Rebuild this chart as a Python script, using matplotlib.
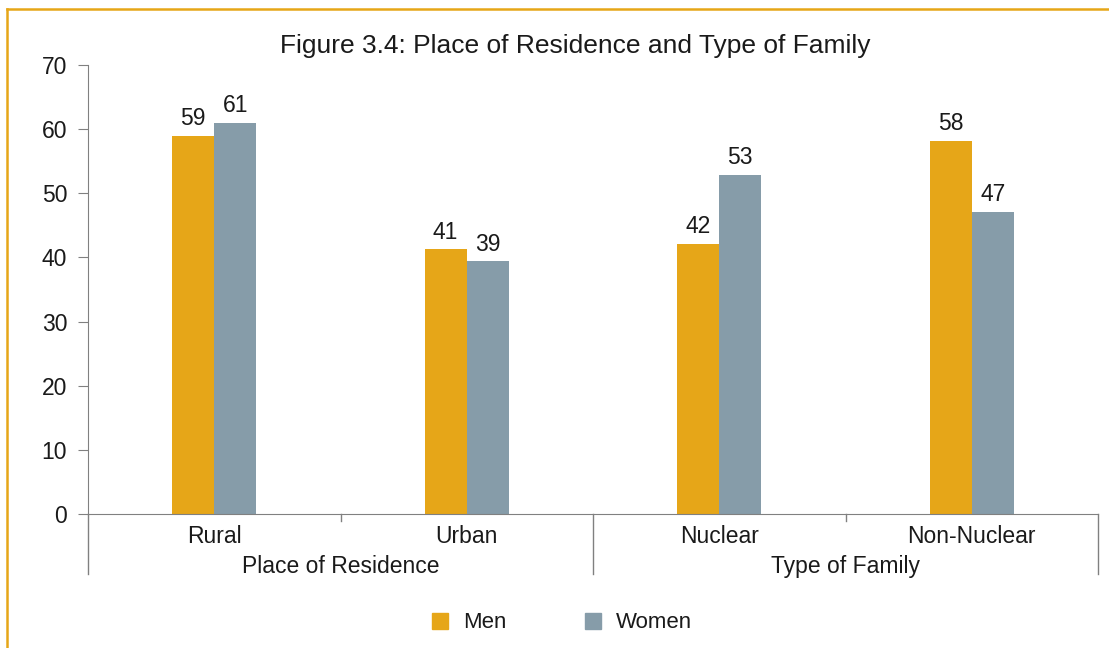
import matplotlib.pyplot as plt
import matplotlib.transforms as mtransforms
from matplotlib.lines import Line2D
from matplotlib.patches import Patch
import numpy as np

plt.rcParams['font.family'] = ['Liberation Sans', 'DejaVu Sans']

categories = ["Rural", "Urban", "Nuclear", "Non-Nuclear"]
groups = ["Place of Residence", "Type of Family"]
men = [59.0, 41.3, 42.1, 58.2]
women = [61.0, 39.4, 52.9, 47.1]
men_labels = ["59", "41", "42", "58"]
women_labels = ["61", "39", "53", "47"]

c_men = "#E6A618"
c_women = "#869CA9"
c_axis = "#808080"
c_text = "#1a1a1a"
fs = 16.5

fig = plt.figure(figsize=(11.09, 6.48), dpi=100)
ax = fig.add_axes([88 / 1109, 134 / 648, 1010 / 1109, 449 / 648])

x = np.arange(len(categories))
w = 0.167
b1 = ax.bar(x - w / 2, men, w, color=c_men, label="Men")
b2 = ax.bar(x + w / 2, women, w, color=c_women, label="Women")

for bars, labs in [(b1, men_labels), (b2, women_labels)]:
    for r, lab in zip(bars, labs):
        ax.annotate(lab, (r.get_x() + r.get_width() / 2, r.get_height()),
                    xytext=(0, 4), textcoords="offset points",
                    ha="center", va="bottom", fontsize=fs, color=c_text)

ax.set_xlim(-0.5, 3.5)
ax.set_ylim(0, 70)
ax.set_yticks(range(0, 71, 10))
ax.tick_params(axis="y", length=7, color=c_axis, labelsize=fs, labelcolor=c_text, pad=8)

ax.set_xticks(x)
ax.set_xticklabels(categories)
ax.tick_params(axis="x", length=0, labelsize=fs, labelcolor=c_text, pad=8)

for s in ["top", "right"]:
    ax.spines[s].set_visible(False)
ax.spines["left"].set_color(c_axis)
ax.spines["bottom"].set_color(c_axis)

# separators and small ticks below the axis
trans = mtransforms.blended_transform_factory(ax.transData, ax.transAxes)
for xv in [-0.5, 1.5, 3.5]:
    ax.plot([xv, xv], [0, -0.134], color=c_axis, lw=1, transform=trans, clip_on=False)
for xv in [0.5, 2.5]:
    ax.plot([xv, xv], [0, -0.016], color=c_axis, lw=1, transform=trans, clip_on=False)

for i, g in enumerate(groups):
    ax.text(2 * i + 0.5, -0.116, g, transform=trans, ha="center", va="center",
            fontsize=fs, color=c_text)

fig.text(575 / 1109, 1 - 46 / 648, "Figure 3.4: Place of Residence and Type of Family",
         ha="center", va="center", fontsize=19, color=c_text)

handles = [Patch(color=c_men, label="Men"), Patch(color=c_women, label="Women")]
fig.legend(handles=handles, loc="center", bbox_to_anchor=(562 / 1109, 1 - 623 / 648),
           ncol=2, frameon=False, fontsize=16, handlelength=0.72, handleheight=0.72,
           handletextpad=0.68, columnspacing=3.5, labelcolor=c_text)

# orange frame (top and left edges visible)
fig.add_artist(Line2D([7 / 1109, 1], [1 - 9 / 648, 1 - 9 / 648], color=c_men, lw=1.8,
                      transform=fig.transFigure))
fig.add_artist(Line2D([7 / 1109, 7 / 1109], [0, 1 - 9 / 648], color=c_men, lw=1.8,
                      transform=fig.transFigure))

fig.savefig("out.png", dpi=100)
